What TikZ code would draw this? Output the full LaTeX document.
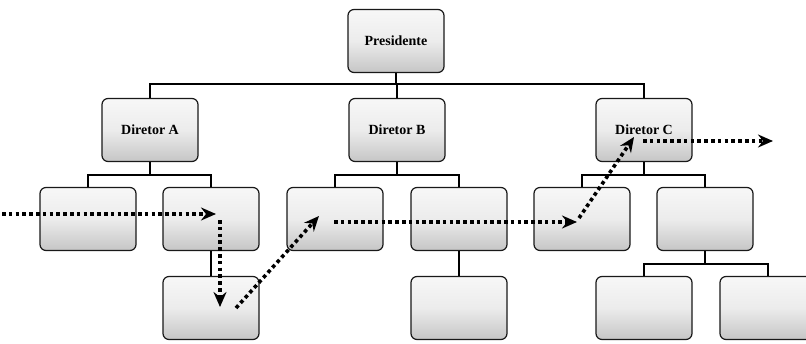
\documentclass[tikz,border=0pt]{standalone}
\usepackage{fontspec}
\setmainfont{Liberation Serif}
\usetikzlibrary{arrows.meta}

\tikzset{
  orgbox/.style={draw=black!90, line width=1.2pt, rounded corners=6pt,
    minimum width=96pt, minimum height=63pt, inner sep=0pt,
    top color=gray!6, bottom color=gray!45, middle color=gray!15,
    font=\bfseries\fontsize{14}{16}\selectfont},
  conn/.style={line width=1.8pt, black},
  flow/.style={line width=3.6pt, black, dash pattern=on 3.6pt off 3.2pt,
    -{Stealth[length=15pt, width=13pt, inset=5pt]}}
}

\begin{document}
\begin{tikzpicture}[x=1pt, y=-1pt]
  \useasboundingbox (0,0) rectangle (806,343);

  % top level
  \node[orgbox] (pres) at (396,41) {Presidente};

  % directors
  \node[orgbox] (dA) at (150,130) {Diretor A};
  \node[orgbox] (dB) at (397,130) {Diretor B};
  \node[orgbox] (dC) at (644,130) {Diretor C};

  % third level
  \node[orgbox] (a1) at (88,219) {};
  \node[orgbox] (a2) at (211,219) {};
  \node[orgbox] (b1) at (335,219) {};
  \node[orgbox] (b2) at (459,219) {};
  \node[orgbox] (c1) at (582,219) {};
  \node[orgbox] (c2) at (705,219) {};

  % fourth level
  \node[orgbox] (a2c) at (211,308) {};
  \node[orgbox] (b2c) at (459,308) {};
  \node[orgbox] (c2l) at (644,308) {};
  \node[orgbox] (c2r) at (768,308) {};

  % bus junctions
  \coordinate (busP) at (396,84);
  \coordinate (busA) at (150,175);
  \coordinate (busB) at (397,175);
  \coordinate (busC) at (644,175);
  \coordinate (busC2) at (705,264);

  % hierarchy lines
  \draw[conn] (pres.south) -- (busP);
  \draw[conn] (dA.north) |- (busP) -| (dC.north);
  \draw[conn] (dB.north) -- (dB.north |- busP);

  \draw[conn] (dA.south) -- (busA);
  \draw[conn] (a1.north) |- (busA) -| (a2.north);
  \draw[conn] (dB.south) -- (busB);
  \draw[conn] (b1.north) |- (busB) -| (b2.north);
  \draw[conn] (dC.south) -- (busC);
  \draw[conn] (c1.north) |- (busC) -| (c2.north);

  \draw[conn] (a2.south) -- (a2c.north);
  \draw[conn] (b2.south) -- (b2c.north);
  \draw[conn] (c2.south) -- (busC2);
  \draw[conn] (c2l.north) |- (busC2) -| (c2r.north);

  % dotted path across the organisation
  \coordinate (f0) at (2,214);
  \coordinate (f1) at (216,214);
  \coordinate (f2) at (220,220);
  \coordinate (f3) at (220,307);
  \coordinate (f4) at (236,308);
  \coordinate (f5) at (319,216);
  \coordinate (f6) at (334,222);
  \coordinate (f7) at (577,222);
  \coordinate (f8) at (579,218);
  \coordinate (f9) at (634,137);
  \coordinate (f10) at (643,141);
  \coordinate (f11) at (773,141);

  \draw[flow] (f0) -- (f1);
  \draw[flow] (f2) -- (f3);
  \draw[flow] (f4) -- (f5);
  \draw[flow] (f6) -- (f7);
  \draw[flow] (f8) -- (f9);
  \draw[flow] (f10) -- (f11);
\end{tikzpicture}
\end{document}
